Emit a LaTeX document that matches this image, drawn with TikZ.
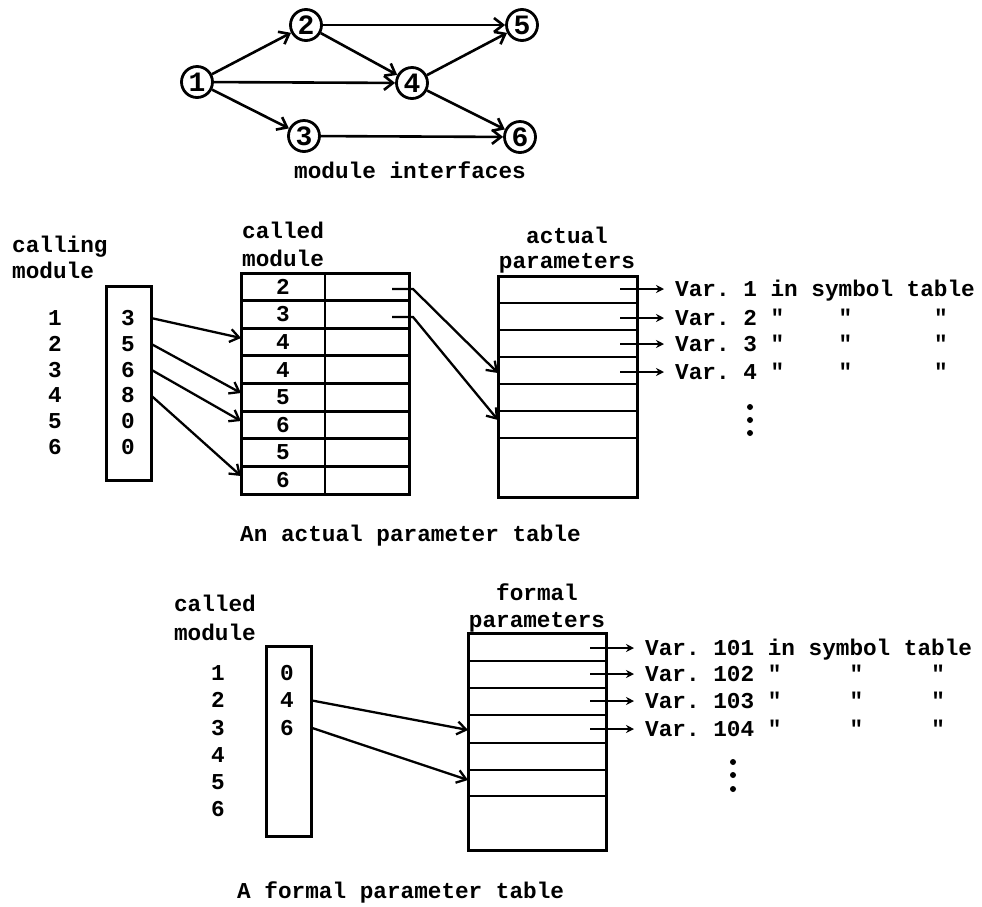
\documentclass[tikz,border=0pt]{standalone}
\usepackage{fontspec}
\newfontfamily\tw{Liberation Mono}
\usetikzlibrary{arrows.meta}
\begin{document}
\begin{tikzpicture}[x=1pt,y=-1pt,
  tw/.style={font=\tw\bfseries\fontsize{22.7}{27}\selectfont, inner sep=0pt},
  bx/.style={draw, line width=3pt, inner sep=0pt, outer sep=0pt},
  rule/.style={line width=2.8pt},
  gnode/.style={circle, draw, line width=2.8pt, minimum size=31pt, inner sep=0pt,
                font=\tw\bfseries\fontsize{28}{28}\selectfont},
  link/.style={line width=2.6pt, -{Straight Barb[length=9pt,width=14pt,line width=2.6pt]}},
  ptr/.style={line width=2.3pt, -{Straight Barb[length=9pt,width=13pt,line width=2.3pt]}},
  varr/.style={line width=2pt, -{Stealth[length=8pt,width=8pt]}},
  dot/.style={circle, fill, inner sep=0pt, minimum size=6pt},
]
\useasboundingbox[fill=white] (0,0) rectangle (982,906);

% ---------- module interface graph ----------
\node[gnode] (n1) at (197,82)  {1};
\node[gnode] (n2) at (306,25)  {2};
\node[gnode] (n3) at (304,136) {3};
\node[gnode] (n4) at (412,83)  {4};
\node[gnode] (n5) at (522,25)  {5};
\node[gnode] (n6) at (520,137) {6};
\draw[link] (n1) -- (n2);
\draw[link] (n1) -- (n4);
\draw[link] (n1) -- (n3);
\draw[link] (n2) -- (n5);
\draw[link] (n2) -- (n4);
\draw[link] (n4) -- (n5);
\draw[link] (n4) -- (n6);
\draw[link] (n3) -- (n6);
\node[tw, anchor=base] (capA) at (410,178) {module interfaces};

% ---------- actual parameter table ----------
\node[tw, anchor=base west] (hcall1) at (12,252) {calling};
\node[tw, anchor=base west] (hcall2) at (12,278) {module};
\foreach \i in {1,...,6}
  \node[tw] (m\i) at (55,{318+25.8*(\i-1)}) {\i};
\node[bx, minimum width=45pt, minimum height=194pt] (cbox) at (128.5,383) {};
\foreach \v [count=\i] in {3,5,6,8,0,0}
  \node[tw] (v\i) at (128,{318+25.8*(\i-1)}) {\v};

\node[tw, anchor=base west] (hcd1) at (242,238) {called};
\node[tw, anchor=base west] (hcd2) at (242,266) {module};
\node[bx, minimum width=168pt, minimum height=221pt] (ctab) at (325,383.5) {};
\draw[rule] (ctab.north) -- (ctab.south);
\foreach \k in {1,...,7}
  \draw[rule] (241,{273+27.625*\k}) -- (409,{273+27.625*\k});
\foreach \d [count=\k] in {2,3,4,4,5,6,5,6}
  \node[tw] (r\k) at (283,{273+27.625*(\k-0.5)}) {\d};

\coordinate (e3) at (241,338);
\coordinate (e5) at (241,393);
\coordinate (e6) at (241,421);
\coordinate (e8) at (241,476);
\draw[ptr] (cbox.east |- v1) -- (e3);
\draw[ptr] (cbox.east |- v2) -- (e5);
\draw[ptr] (cbox.east |- v3) -- (e6);
\draw[ptr] (cbox.east |- v4) -- (e8);

\node[tw, anchor=base] (hap1) at (567,243) {actual};
\node[tw, anchor=base] (hap2) at (567,268) {parameters};
\node[bx, minimum width=139pt, minimum height=221pt] (atab) at (567.5,386.5) {};
\foreach \k in {1,...,6}
  \draw[rule] (498,{276+27*\k}) -- (637,{276+27*\k});

\coordinate (s1) at (392,289);
\coordinate (b1) at (413,289);
\coordinate (t1) at (498,373);
\coordinate (s2) at (392,317);
\coordinate (b2) at (413,317);
\coordinate (t2) at (498,420);
\draw[ptr] (s1) -- (b1) -- (t1);
\draw[ptr] (s2) -- (b2) -- (t2);

\foreach \y/\t [count=\k] in {289/{Var.~1~in~symbol~table},
                              318/{Var.~2~"~~~~"~~~~~~"},
                              344/{Var.~3~"~~~~"~~~~~~"},
                              372/{Var.~4~"~~~~"~~~~~~"}} {
  \coordinate (ao\k) at (620,\y);
  \coordinate (ai\k) at (664,\y);
  \node[tw, anchor=base west] (av\k) at (675,\y+7) {\t};
  \draw[varr] (ao\k) -- (ai\k);
}
\node[dot] (ad1) at (750,407) {};
\node[dot] (ad2) at (750,420) {};
\node[dot] (ad3) at (750,433) {};

\node[tw, anchor=base west] (capB) at (240,541) {An actual parameter table};

% ---------- formal parameter table ----------
\node[tw, anchor=base east] (hfc1) at (256,611) {called};
\node[tw, anchor=base east] (hfc2) at (256,640) {module};
\foreach \i in {1,...,6}
  \node[tw] (f\i) at (218,{673+27.3*(\i-1)}) {\i};
\node[bx, minimum width=45pt, minimum height=190pt] (fbox) at (288.5,741) {};
\foreach \v [count=\i] in {0,4,6}
  \node[tw] (w\i) at (287,{673+27.3*(\i-1)}) {\v};

\node[tw, anchor=base] (hfp1) at (537,600) {formal};
\node[tw, anchor=base] (hfp2) at (537,627) {parameters};
\node[bx, minimum width=138pt, minimum height=217pt] (ftab) at (537,741.5) {};
\foreach \y in {661,688,715,743,770,796}
  \draw[rule] (468,\y) -- (606,\y);

\coordinate (g4) at (468,730);
\coordinate (g6) at (468,780);
\draw[ptr] (fbox.east |- w2) -- (g4);
\draw[ptr] (fbox.east |- w3) -- (g6);

\foreach \y/\t [count=\k] in {648/{Var.~101~in~symbol~table},
                              674/{Var.~102~"~~~~~"~~~~~"},
                              701/{Var.~103~"~~~~~"~~~~~"},
                              729/{Var.~104~"~~~~~"~~~~~"}} {
  \coordinate (fo\k) at (590,\y);
  \coordinate (fi\k) at (634,\y);
  \node[tw, anchor=base west] (fv\k) at (645,\y+7) {\t};
  \draw[varr] (fo\k) -- (fi\k);
}
\node[dot] (fd1) at (733,762) {};
\node[dot] (fd2) at (733,775) {};
\node[dot] (fd3) at (733,789) {};

\node[tw, anchor=base west] (capC) at (237,898) {A formal parameter table};
\end{tikzpicture}
\end{document}
